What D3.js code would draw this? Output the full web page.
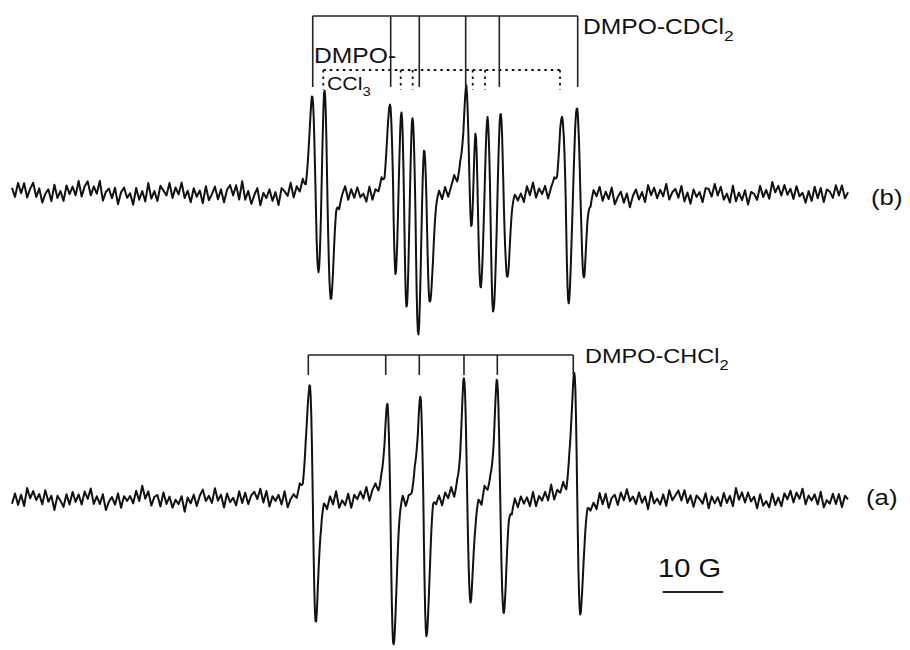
<!DOCTYPE html>
<html>
<head>
<meta charset="utf-8">
<script src="https://cdn.jsdelivr.net/npm/d3@7"></script>
<style>
  body { margin: 0; background: #fff; }
  svg { display: block; }
  text { font-family: Arial, "Liberation Sans", sans-serif; fill: #111; }
</style>
</head>
<body>
<svg id="chart" width="910" height="650"></svg>
<script>
// field axis in gauss, counted from the left end of the sweep
var fieldRange = [0, 138];
var noiseStep = 0.5;      // G between noise samples
var wanderStep = 2;       // G between slow baseline samples
var linePP = 1.07;        // peak-to-peak line width (G)
var lorentzLeft = 0.5;    // lorentzian share, low-field lobe
var lorentzRight = 0.2;   // lorentzian share, high-field lobe

// (a) DMPO-CHCl2: line centres (G), height of the up lobe and depth of the down lobe
var centersA = [49.64, 62.45, 67.90, 75.17, 80.60, 93.32];
var upA      = [119, 89, 101, 121, 112, 125];
var downA    = [126, 148, 143, 105, 121, 117];

// (b) DMPO-CDCl2 + DMPO-CCl3
var centersB = [50.10, 52.10, 62.89, 64.68, 66.57, 68.45, 75.47, 76.90, 78.95, 81.17, 91.37, 93.81];
var upB      = [98, 99, 85, 72, 66, 33, 99, 42, 73, 81, 82, 84];
var downB    = [78, 105, 83, 108, 140, 111, 22, 93, 123, 83, 111, 86];

// stick diagrams (G)
var sticksCHCl2 = [48.91, 61.69, 67.23, 74.61, 80.11, 92.65];
var sticksCDCl2 = [49.64, 62.51, 67.23, 74.89, 80.44, 93.38];
var sticksCCl3  = [51.39, 64.16, 66.14, 76.05, 78.08, 90.46];

var scaleBarStart = 107.4;
var scaleBarLength = 10;

// baseline noise, one value every 0.5 G
var noiseB = [3,-4,6,-2,5,-5,2,7,-3,4,-6,1,5,-4,8,-2,3,-5,6,-1,
  4,-3,7,-5,2,6,-4,3,-2,8,-6,1,4,-3,5,-7,2,6,-1,3,
  -5,7,-2,4,-4,9,-3,2,-6,5,1,-3,6,-5,3,-2,7,-4,2,-6,
  5,-1,4,-5,8,-3,1,6,-4,3,-7,2,5,-2,6,-4,10,-3,4,-5,
  2,7,-6,3,-1,5,-4,2,-8,4,1,-3,6,-5,3,-2,5,-6,1,4,
  -3,6,-2,8,-5,3,-1,4,-6,2,7,-4,3,-3,5,-2,1,-5,6,-4,
  3,-1,5,-6,2,4,-3,7,-2,3,-5,1,6,-4,2,-3,5,-1,4,-6,
  2,6,-3,4,-5,1,7,-2,3,-4,6,-6,2,5,-1,3,-5,4,-2,8,
  -4,3,-2,6,-5,2,4,-3,1,-6,5,-2,7,-4,3,-1,5,-5,2,6,
  -3,4,-6,3,1,-2,5,-4,8,-3,2,-5,4,-1,6,-4,3,-2,7,-5,
  1,5,-3,4,-6,2,6,-2,3,-5,7,-1,4,-4,2,-3,6,-5,1,4,
  -2,7,-4,3,-5,5,-1,2,-6,4,3,-3,6,-2,5,-4,1,-5,8,-3,
  4,-2,5,-6,3,1,-4,6,-3,2,-5,7,-1,4,-3,5,-2,
  3,-4,6,-1,2,-5,4,-3,7,-2,5,-6,3,1,-4,5,-2,6,-3,2];
var noiseA = [-2,5,-4,3,-6,7,-1,4,-3,2,-5,6,-2,3,-7,4,1,-4,5,-3,
  6,-2,3,-5,4,-1,7,-4,2,-3,5,-6,1,4,-2,6,-5,3,-1,2,
  -4,5,-3,8,-2,4,-6,1,3,-5,6,-2,4,-4,2,-1,5,-7,3,-2,
  4,-5,2,6,-3,1,-4,7,-2,3,-6,5,-1,2,-4,6,-3,4,-5,1,
  3,-2,6,-4,5,-6,2,-1,4,-3,7,-5,1,3,-2,5,-4,2,-6,4,
  -1,6,-3,2,-5,4,-2,8,-4,1,-3,5,-6,3,-1,4,-2,6,-5,2,
  5,-3,1,-4,6,-2,3,-5,2,7,-4,1,-2,5,-6,3,-1,4,-3,6,
  -2,3,-5,4,-1,6,-4,2,-3,5,-7,2,4,-2,3,-5,6,-1,2,-4,
  5,-3,7,-2,1,-6,4,-3,5,-1,3,-4,6,-5,2,-2,4,-3,8,-4,
  2,-1,5,-6,3,-2,4,-5,6,-1,3,-3,2,-4,7,-2,5,-6,1,3,
  -5,4,-2,6,-3,1,-4,5,-2,3,-6,7,-1,2,-3,4,-5,6,-2,1,
  4,-3,5,-4,2,-6,3,1,-2,6,-5,4,-1,3,-4,5,-3,2,-6,7,
  -2,4,-3,5,-1,3,-5,6,-2,1,-4,6,-3,2,-5,4,-1,
  5,-4,3,-2,6,-5,2,-1,4,-3,7,-4,1,-2,5,-3,4,-6,2,-1];

// slow baseline wander, one value every 2 G
var wanderB = [3,5,2,-1,0,3,6,4,1,0, -3,-1,2,4,3,0,-2,1,3,0,
  -3,-2,0,2,-1,-4,-3,0,2,-1, -3,0,3,1,-2,0,3,4,1,-2,
  -3,0,2,3,0,-2,1,4,3,0, -3,-4,-1,2,3,0,-2,1,3,0,
  -3,-1,2,4,3,0,-2,1,3,0];
var wanderA = [-1,2,4,1,-2,0,3,1,-3,-1, 2,4,1,-2,-3,0,3,2,-1,1,
  4,2,-1,-3,0,2,1,-2,0,3, 4,1,-2,-1,2,3,0,-3,-1,2,
  3,1,-2,0,2,4,1,-1,-3,0, 2,3,0,-2,1,4,2,-1,-2,1,
  3,0,-3,-1,2,4,1,-2,0,2];

var noiseGain = 1.35;

var svg = d3.select('#chart');
var x = d3.scaleLinear().domain(fieldRange).range([12, 848]);
var yB = d3.scaleLinear().domain([-200, 200]).range([395, -5]);
var yA = d3.scaleLinear().domain([-200, 200]).range([700, 300]);

// first-derivative line, +1 at the low-field extremum, -1 at the high-field one
function shape(d) {
    var eta = d < 0 ? lorentzLeft : lorentzRight;
    var g = linePP * Math.sqrt(3) / 2, u = d / g;
    var lor = -2 * u / Math.pow(1 + u * u, 2) / 0.6495;
    var s = linePP / 2, v = d / s;
    var gau = -v * Math.exp((1 - v * v) / 2);
    return eta * lor + (1 - eta) * gau;
}

function spectrum(centers, up, down) {
    return function(f) {
        var sum = 0;
        for (var i = 0; i < centers.length; i++) {
            var d = f - centers[i];
            sum += (d < 0 ? up[i] : down[i]) * shape(d);
        }
        return sum;
    };
}

// overlapping lines: adjust lobe sizes so the summed trace hits the read extrema
function fitLobes(centers, upT, downT) {
    var up = upT.slice(), down = downT.slice();
    var h = linePP / 2;
    var s = spectrum(centers, up, down);
    for (var it = 0; it < 80; it++) {
        for (var i = 0; i < centers.length; i++) {
            up[i] += upT[i] - s(centers[i] - h);
            down[i] += s(centers[i] + h) + downT[i];
        }
    }
    return s;
}

function sampleAt(arr, stepG, f) {
    var k = f / stepG, k0 = Math.min(Math.floor(k), arr.length - 1);
    var k1 = Math.min(k0 + 1, arr.length - 1), t = k - Math.floor(k);
    return arr[k0] * (1 - t) + arr[k1] * t;
}

function trace(centers, upT, downT, noise, wander) {
    var s = fitLobes(centers, upT, downT);
    var n = Math.round((fieldRange[1] - fieldRange[0]) / 0.1);
    return d3.range(n + 1).map(function(i) {
        var f = fieldRange[0] + i * 0.1;
        return [f, s(f) + noiseGain * sampleAt(noise, noiseStep, f) + sampleAt(wander, wanderStep, f)];
    });
}

function drawTrace(data, y) {
    svg.append('path')
        .datum(data)
        .attr('fill', 'none')
        .attr('stroke', '#111')
        .attr('stroke-width', 2)
        .attr('stroke-linejoin', 'round')
        .attr('d', d3.line().x(function(d) { return x(d[0]); }).y(function(d) { return y(d[1]); }));
}

drawTrace(trace(centersB, upB, downB, noiseB, wanderB), yB);
drawTrace(trace(centersA, upA, downA, noiseA, wanderA), yA);

// stick diagram: bar plus ticks down to the lines
function sticks(fields, yTop, yBottom, dashed) {
    var g = svg.append('g')
        .attr('stroke', dashed ? '#111' : '#222')
        .attr('stroke-width', dashed ? 1.8 : 1.6)
        .attr('fill', 'none');
    if (dashed) g.attr('stroke-dasharray', '2.5,4');
    g.append('line')
        .attr('x1', x(fields[0])).attr('x2', x(fields[fields.length - 1]))
        .attr('y1', yTop).attr('y2', yTop);
    g.selectAll('line.tick')
        .data(fields)
        .enter()
        .append('line')
        .attr('class', 'tick')
        .attr('x1', function(d) { return x(d); })
        .attr('x2', function(d) { return x(d); })
        .attr('y1', yTop)
        .attr('y2', yBottom);
}

sticks(sticksCDCl2, 16, 87, false);
sticks(sticksCCl3, 70, 90, true);
sticks(sticksCHCl2, 355, 375, false);

function label(px, py, size, main, sub) {
    var t = svg.append('text')
        .attr('transform', 'translate(' + px + ',' + py + ') scale(1.12,1)')
        .attr('font-size', size)
        .text(main);
    if (sub) {
        t.append('tspan')
            .attr('dy', size * 0.32)
            .attr('font-size', size * 0.7)
            .text(sub);
    }
}

label(583, 34, 22, 'DMPO-CDCl', '2');
label(314, 63, 22, 'DMPO-', null);
label(327, 90, 19, 'CCl', '3');
label(585, 363, 21, 'DMPO-CHCl', '2');
label(871, 205, 23, '(b)', null);
label(866, 505, 23, '(a)', null);
label(658, 577, 26, '10 G', null);

svg.append('line')
    .attr('x1', x(scaleBarStart))
    .attr('x2', x(scaleBarStart + scaleBarLength))
    .attr('y1', 592)
    .attr('y2', 592)
    .attr('stroke', '#222')
    .attr('stroke-width', 2);
</script>
</body>
</html>
